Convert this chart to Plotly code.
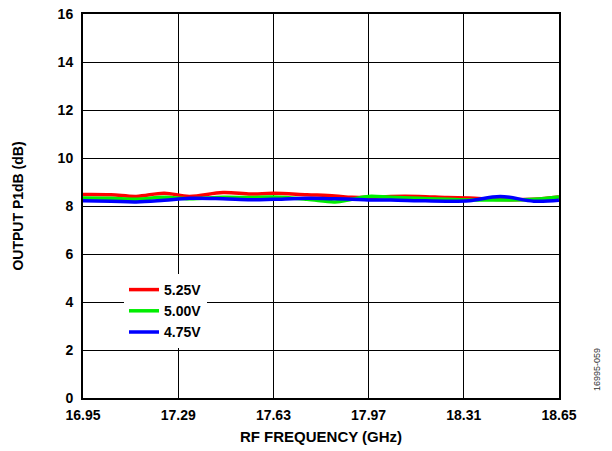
import plotly.graph_objects as go

freq = [16.95, 17.05, 17.14, 17.24, 17.33, 17.45, 17.55, 17.63, 17.75, 17.85,
        17.91, 17.97, 18.05, 18.15, 18.25, 18.33, 18.44, 18.56, 18.65]
v525 = [8.48, 8.47, 8.40, 8.53, 8.40, 8.56, 8.50, 8.53, 8.47, 8.42,
        8.36, 8.36, 8.40, 8.40, 8.35, 8.33, 8.27, 8.28, 8.38]
v500 = [8.33, 8.32, 8.28, 8.36, 8.30, 8.36, 8.35, 8.37, 8.28, 8.17,
        8.28, 8.40, 8.36, 8.32, 8.28, 8.25, 8.25, 8.28, 8.38]
v475 = [8.22, 8.20, 8.17, 8.24, 8.32, 8.30, 8.26, 8.28, 8.32, 8.30,
        8.28, 8.25, 8.25, 8.22, 8.20, 8.22, 8.40, 8.20, 8.24]
xticks = [16.95, 17.29, 17.63, 17.97, 18.31, 18.65]
xticklabels = ["16.95", "17.29", "17.63", "17.97", "18.31", "18.65"]
yticks = [0, 2, 4, 6, 8, 10, 12, 14, 16]

font = "Liberation Sans, Arial, sans-serif"
fig = go.Figure()
for name, vals, col in [("5.25V", v525, "#ff0000"), ("5.00V", v500, "#00ee00"), ("4.75V", v475, "#0000ff")]:
    fig.add_trace(go.Scatter(x=freq, y=vals, name=name, mode="lines",
                             line=dict(color=col, width=3.5, shape="spline", smoothing=1.0)))

L, R, T, B = 83, 53, 14, 53
W, H = 612, 451
pw, ph = W - L - R, H - T - B

fig.update_layout(
    width=W, height=H,
    margin=dict(l=L, r=R, t=T, b=B, autoexpand=False),
    paper_bgcolor="white", plot_bgcolor="white",
    font=dict(family=font, size=13, color="black"),
    showlegend=True,
    legend=dict(x=(124 - L) / pw, y=(H - B - 274) / ph, xanchor="left", yanchor="top",
                bgcolor="white", borderwidth=0,
                font=dict(family=font, size=14, color="black", weight="bold"),
                tracegroupgap=0, itemwidth=30),
    xaxis=dict(range=[16.95, 18.65], tickvals=xticks, ticktext=xticklabels,
               showgrid=True, gridcolor="black", gridwidth=1,
               showline=True, linecolor="black", linewidth=2, mirror=True,
               ticks="", zeroline=False, ticklabelstandoff=3,
               tickfont=dict(family=font, size=14, weight="bold"),
               title=dict(text="<b>RF FREQUENCY (GHz)</b>", standoff=10,
                          font=dict(family=font, size=15))),
    yaxis=dict(range=[0, 16], tickvals=yticks,
               showgrid=True, gridcolor="black", gridwidth=1,
               showline=True, linecolor="black", linewidth=2, mirror=True,
               ticks="", zeroline=False, ticklabelstandoff=5,
               tickfont=dict(family=font, size=14, weight="bold"),
               title=dict(text="<b>OUTPUT P1dB (dB)</b>", standoff=31,
                          font=dict(family=font, size=14))),
    annotations=[dict(text="16995-059", x=(597 - L) / pw, y=(H - B - 370) / ph,
                      xref="paper", yref="paper", xanchor="center", yanchor="middle",
                      showarrow=False, textangle=-90,
                      font=dict(family=font, size=9, color="#333333"))],
)
fig.write_html("out.html", config={"displayModeBar": False},
               post_script="document.body.style.margin='0';document.body.style.overflow='hidden';")
